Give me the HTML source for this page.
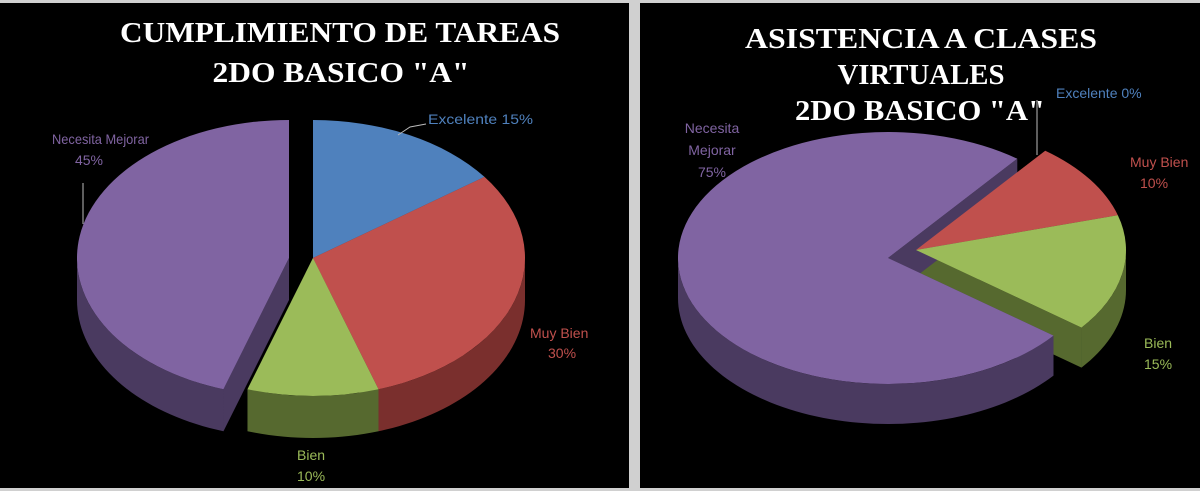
<!DOCTYPE html>
<html><head><meta charset="utf-8"><style>
html,body{margin:0;padding:0;background:#d9d9d9;}
svg{display:block}
text{font-family:"Liberation Sans",sans-serif;}
.t{font-family:"Liberation Serif",serif;font-weight:bold;font-size:29px;fill:#fff;text-anchor:middle}
.l{font-size:14px}
</style></head><body>
<svg id="s" width="1200" height="491" viewBox="0 0 1200 491">
<rect x="0" y="0" width="1200" height="491" fill="#d0d0d0"/>
<rect x="0" y="3" width="629" height="485" fill="#000"/>
<rect x="640" y="3" width="560" height="485" fill="#000"/>
<g id="p1"></g>
<g id="p2"></g>
<text class="t" x="340" y="42" textLength="440" lengthAdjust="spacingAndGlyphs">CUMPLIMIENTO DE TAREAS</text>
<text class="t" x="341" y="82" textLength="257" lengthAdjust="spacingAndGlyphs">2DO BASICO "A"</text>
<text class="t" x="921" y="48" textLength="352" lengthAdjust="spacingAndGlyphs">ASISTENCIA A CLASES</text>
<text class="t" x="921" y="84" textLength="167" lengthAdjust="spacingAndGlyphs">VIRTUALES</text>
<text class="t" x="920" y="120" textLength="250" lengthAdjust="spacingAndGlyphs">2DO BASICO "A"</text>

<line x1="83" y1="183" x2="83" y2="224" stroke="#bbb"/>
<polyline points="426,124 410,127 398,135" fill="none" stroke="#bbb"/>
<text class="l" x="428" y="124" textLength="105" lengthAdjust="spacingAndGlyphs" fill="#4f81bd">Excelente  15%</text>
<text class="l" x="530" y="338" fill="#c0504d">Muy Bien</text>
<text class="l" x="548" y="358" fill="#c0504d">30%</text>
<text class="l" x="297" y="460" fill="#9bbb59">Bien</text>
<text class="l" x="297" y="481" fill="#9bbb59">10%</text>
<text class="l" x="52" y="144" textLength="97" lengthAdjust="spacingAndGlyphs" fill="#8064a2">Necesita Mejorar</text>
<text class="l" x="89" y="165" text-anchor="middle" fill="#8064a2">45%</text>

<line x1="1037" y1="100" x2="1037" y2="155" stroke="#bbb"/>
<text class="l" x="1056" y="98" fill="#4f81bd">Excelente 0%</text>
<text class="l" x="1130" y="167" fill="#c0504d">Muy Bien</text>
<text class="l" x="1140" y="188" fill="#c0504d">10%</text>
<text class="l" x="1144" y="348" fill="#9bbb59">Bien</text>
<text class="l" x="1144" y="369" fill="#9bbb59">15%</text>
<text class="l" x="712" y="133" fill="#8064a2" text-anchor="middle">Necesita</text>
<text class="l" x="712" y="155" fill="#8064a2" text-anchor="middle">Mejorar</text>
<text class="l" x="712" y="177" fill="#8064a2" text-anchor="middle">75%</text>
</svg>
<script>
const categories = ["Excelente","Muy Bien","Bien","Necesita Mejorar"];
const tareasValues = [15,30,10,45];
const asistenciaValues = [0,10,15,75];
const colors = ["#4f81bd","#c0504d","#9bbb59","#8064a2"];
const sideColors = ["#2c4a6e","#7a2f2d","#56692f","#4a3a60"];
const NS="http://www.w3.org/2000/svg";
function drawPie(gid, vals, cfg){
  const g=document.getElementById(gid);
  const total=vals.reduce((a,b)=>a+b,0);
  const pt=(cx,cy,a)=>{const r=a*Math.PI/180;return [cx+cfg.rx*Math.sin(r), cy-cfg.ry*Math.cos(r)];};
  let a0=cfg.start; const slices=[];
  vals.forEach((v,i)=>{const a1=a0+v/total*360;slices.push({i,a0,a1});a0=a1;});
  const sides=[],tops=[];
  slices.forEach(s=>{
    if(s.a1-s.a0<=0) return;
    const off=cfg.explode[s.i]||[0,0];
    const cx=cfg.cx+off[0], cy=cfg.cy+off[1], d=cfg.depth;
    [s.a0,s.a1].forEach(a=>{
      const p=pt(cx,cy,a);
      const path=document.createElementNS(NS,"path");
      path.setAttribute("d",`M${cx},${cy}L${p[0]},${p[1]}L${p[0]},${p[1]+d}L${cx},${cy+d}Z`);
      path.setAttribute("fill",sideColors[s.i]);
      
      
      sides.push(path);
    });
    for(let k=-1;k<=1;k++){
      const lo=Math.max(s.a0,90+360*k), hi=Math.min(s.a1,270+360*k);
      if(hi<=lo) continue;
      let dd="",back=[];
      for(let a=lo;a<=hi+0.001;a+=2){const aa=Math.min(a,hi);const p=pt(cx,cy,aa);dd+=(dd?"L":"M")+p[0]+","+p[1];back.push(p);}
      const pe=pt(cx,cy,hi);dd+="L"+pe[0]+","+pe[1];back.push(pe);
      back.reverse().forEach(p=>{dd+="L"+p[0]+","+(p[1]+d);});
      const path=document.createElementNS(NS,"path");
      path.setAttribute("d",dd+"Z");
      path.setAttribute("fill",sideColors[s.i]);
      
      
      sides.push(path);
    }
    const p0=pt(cx,cy,s.a0),p1=pt(cx,cy,s.a1);
    const large=(s.a1-s.a0)>180?1:0;
    const top=document.createElementNS(NS,"path");
    top.setAttribute("d",`M${cx},${cy}L${p0[0]},${p0[1]}A${cfg.rx},${cfg.ry} 0 ${large} 1 ${p1[0]},${p1[1]}Z`);
    top.setAttribute("fill",colors[s.i]);
    
    
    tops.push(top);
  });
  sides.forEach(p=>g.appendChild(p));
  tops.forEach(p=>g.appendChild(p));
}
drawPie("p1",tareasValues,{cx:313,cy:258,rx:212,ry:138,depth:42,start:0,explode:{3:[-24,0]}});
drawPie("p2",asistenciaValues,{cx:888,cy:258,rx:210,ry:126,depth:40,start:38,explode:{1:[28,-8],2:[28,-8]}});
</script>
</body></html>
